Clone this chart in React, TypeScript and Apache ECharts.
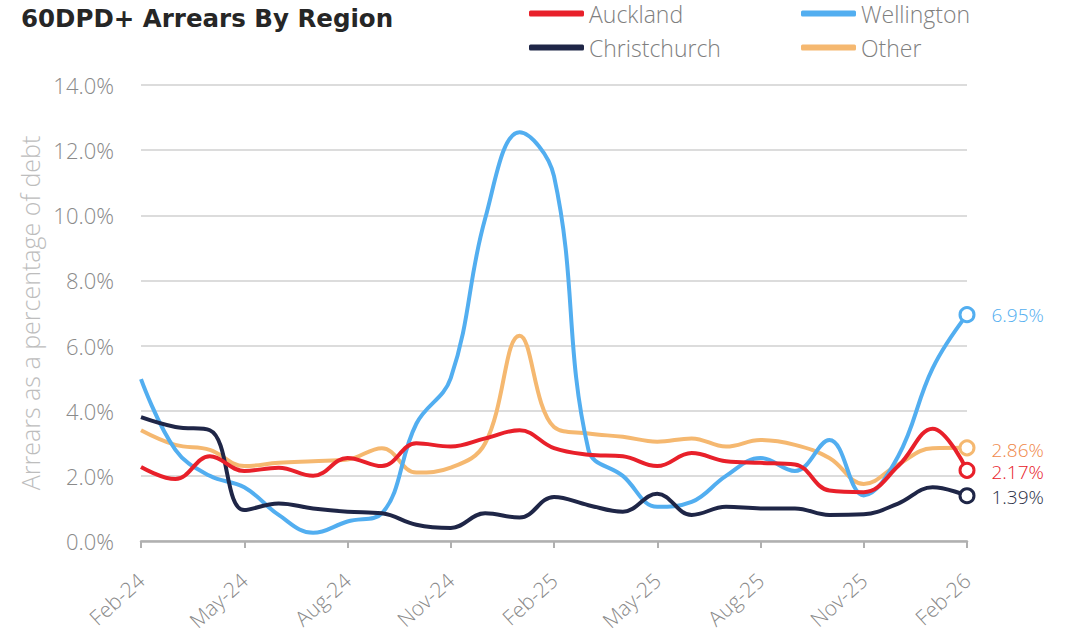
import React, { useEffect, useRef } from "react";
import * as echarts from "echarts";

const months = [
  "Feb-24","Mar-24","Apr-24","May-24","Jun-24","Jul-24","Aug-24","Sep-24","Oct-24","Nov-24","Dec-24","Jan-25",
  "Feb-25","Mar-25","Apr-25","May-25","Jun-25","Jul-25","Aug-25","Sep-25","Oct-25","Nov-25","Dec-25","Jan-26","Feb-26",
];
const auckland = [2.27, 1.9, 2.6, 2.15, 2.25, 2.0, 2.55, 2.3, 3.0, 2.9, 3.15, 3.4, 2.85, 2.65, 2.6, 2.3, 2.7, 2.45, 2.4, 2.35, 1.55, 1.5, 2.3, 3.45, 2.17];
const wellington = [4.97, 2.8, 2.0, 1.65, 0.8, 0.25, 0.6, 0.85, 3.6, 5.0, 9.9, 12.55, 11.2, 2.8, 2.0, 1.05, 1.2, 2.0, 2.55, 2.15, 3.1, 1.4, 2.6, 5.3, 6.95];
const christchurch = [3.8, 3.5, 3.4, 0.95, 1.15, 1.0, 0.9, 0.85, 0.5, 0.4, 0.85, 0.72, 1.35, 1.1, 0.9, 1.45, 0.8, 1.05, 1.0, 1.0, 0.8, 0.82, 1.15, 1.65, 1.39];
const other = [3.4, 2.95, 2.8, 2.3, 2.4, 2.45, 2.5, 2.85, 2.1, 2.25, 3.0, 6.3, 3.5, 3.3, 3.2, 3.05, 3.15, 2.9, 3.1, 2.95, 2.55, 1.75, 2.35, 2.85, 2.86];
const yTicks = [0, 2, 4, 6, 8, 10, 12, 14];

const FONT = "Open Sans";

function mkSeries(name: string, data: number[], color: string, labelColor: string, z: number, dy: number) {
  const last = data.length - 1;
  return {
    name,
    type: "line",
    smooth: 0.4,
    symbol: "none",
    z,
    lineStyle: { color, width: 4 },
    itemStyle: { color },
    data: data.map((v, i) =>
      i === last
        ? {
            value: v,
            symbol: "circle",
            symbolSize: 14,
            itemStyle: { color: "#fff", borderColor: color, borderWidth: 3 },
            label: {
              show: true,
              position: "right",
              distance: 16,
              offset: [0, dy],
              formatter: v.toFixed(2) + "%",
              color: labelColor,
              fontFamily: FONT,
              fontSize: 19,
              lineHeight: 19,
              fontWeight: 300,
            },
          }
        : v
    ),
  };
}

export default function App() {
  const ref = useRef<HTMLDivElement>(null);
  useEffect(() => {
    if (!ref.current) return;
    const chart = echarts.init(ref.current, undefined, { renderer: "svg" });
    const legendBase = {
      icon: "roundRect",
      itemWidth: 55,
      itemHeight: 6,
      textStyle: { fontFamily: FONT, fontSize: 23, color: "#7f7f7f", fontWeight: 300 },
      padding: 0,
    };
    chart.setOption({
      animation: false,
      backgroundColor: "#fff",
      title: {
        text: "60DPD+ Arrears By Region",
        left: 21,
        top: 6,
        padding: 0,
        textStyle: { fontFamily: "DejaVu Sans", fontWeight: "bold", fontSize: 24.5, color: "#262626" },
      },
      legend: [
        { ...legendBase, data: ["Auckland"], left: 529, top: 2 },
        { ...legendBase, data: ["Wellington"], left: 801, top: 2 },
        { ...legendBase, data: ["Christchurch"], left: 529, top: 36 },
        { ...legendBase, data: ["Other"], left: 801, top: 36 },
      ],
      grid: { left: 141, right: 110, top: 85, bottom: 93, containLabel: false },
      xAxis: {
        type: "category",
        data: months,
        boundaryGap: false,
        axisLine: { lineStyle: { color: "#b0b0b0", width: 2.5 } },
        axisTick: { show: true, interval: 2, length: 7, lineStyle: { color: "#b0b0b0", width: 2 } },
        axisLabel: {
          interval: 2,
          rotate: 42,
          margin: 36,
          color: "#8a8a8a",
          fontFamily: FONT,
          fontSize: 21,
          fontWeight: 300,
        },
      },
      yAxis: {
        type: "value",
        min: 0,
        max: 14,
        interval: 2,
        name: "Arrears as a percentage of debt",
        nameLocation: "middle",
        nameRotate: 90,
        nameGap: 97,
        nameTextStyle: { fontFamily: FONT, fontSize: 25, color: "#bdbdbd", fontWeight: 300 },
        axisLine: { show: false },
        axisTick: { show: false },
        axisLabel: {
          margin: 27,
          color: "#8a8a8a",
          fontFamily: FONT,
          fontSize: 22,
          fontWeight: 300,
          formatter: (v: number) => (yTicks.includes(v) ? v.toFixed(1) + "%" : ""),
        },
        splitLine: { lineStyle: { color: "#dcdcdc", width: 2 } },
      },
      series: [
        mkSeries("Auckland", auckland, "#e8202a", "#e8202a", 5, 2),
        mkSeries("Wellington", wellington, "#52aef0", "#52aef0", 3, 0),
        mkSeries("Christchurch", christchurch, "#1f2647", "#2a2e45", 4, 1),
        mkSeries("Other", other, "#f5b870", "#f0884a", 2, 2),
      ],
    });
    return () => chart.dispose();
  }, []);
  return (
    <div
      ref={ref}
      style={{ position: "absolute", left: 0, top: 0, width: 1077, height: 634 }}
    />
  );
}
